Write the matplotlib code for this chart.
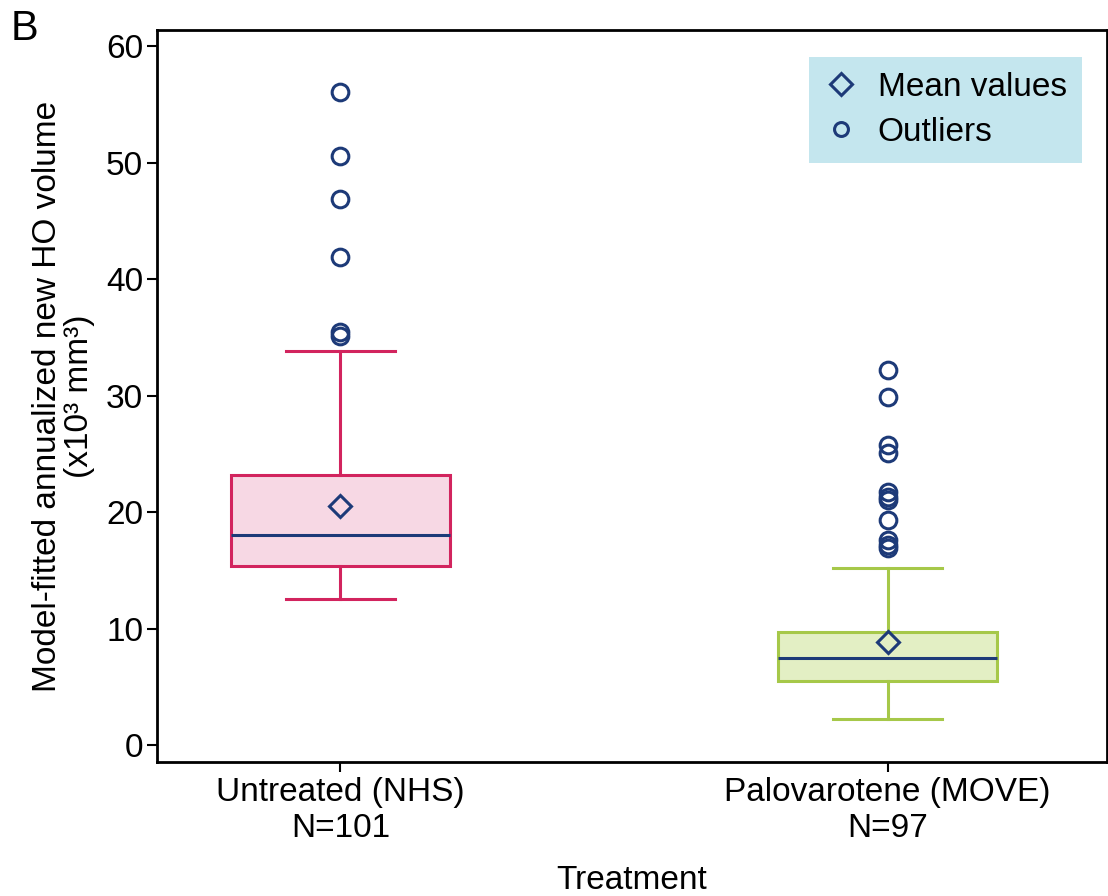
import matplotlib
matplotlib.use("Agg")
import matplotlib.pyplot as plt
from matplotlib.lines import Line2D

plt.rcParams['font.family'] = ['Liberation Sans', 'DejaVu Sans']

categories = ["Untreated (NHS)\nN=101", "Palovarotene (MOVE)\nN=97"]
whisker_low = [12.5, 2.2]
q1 = [15.4, 5.5]
median = [18.0, 7.5]
q3 = [23.2, 9.7]
whisker_high = [33.8, 15.2]
means = [20.5, 8.8]
outliers_untreated = [56.1, 50.6, 46.9, 41.9, 35.5, 35.1]
outliers_palovarotene = [32.2, 29.9, 25.8, 25.1, 21.7, 21.3, 21.0, 19.3, 17.6, 17.2, 16.9]
yticks = [0, 10, 20, 30, 40, 50, 60]

edge_colors = ["#D2245E", "#A6C849"]
fill_colors = ["#F7D8E4", "#E3EFC4"]
navy = "#1D3A78"

fig = plt.figure(figsize=(11.08, 8.96), dpi=100)
ax = fig.add_axes([0.1417, 0.1496, 0.857, 0.8169])

stats = []
fliers = [outliers_untreated, outliers_palovarotene]
for i in range(2):
    stats.append(dict(med=median[i], q1=q1[i], q3=q3[i], whislo=whisker_low[i],
                      whishi=whisker_high[i], mean=means[i], fliers=fliers[i]))

positions = [1, 2]
for i in range(2):
    ax.bxp([stats[i]], positions=[positions[i]], widths=0.4, patch_artist=True,
           showmeans=True, showfliers=True,
           boxprops=dict(facecolor=fill_colors[i], edgecolor=edge_colors[i], linewidth=2.2),
           whiskerprops=dict(color=edge_colors[i], linewidth=2.2),
           capprops=dict(color=edge_colors[i], linewidth=2.2),
           medianprops=dict(color=navy, linewidth=2.2),
           meanprops=dict(marker='D', markerfacecolor='none', markeredgecolor=navy,
                          markersize=11, markeredgewidth=2.2),
           flierprops=dict(marker='o', markerfacecolor='none', markeredgecolor=navy,
                           markersize=12, markeredgewidth=2.2),
           capwidths=0.2)

FS = 24
ax.set_xlim(0.665, 2.40)
ax.set_ylim(-1.46, 61.4)
ax.set_yticks(yticks)
ax.set_xticks(positions)
ax.set_xticklabels(categories, fontsize=FS, linespacing=1.2)
ax.tick_params(axis='y', labelsize=FS, length=7, width=1.5, pad=3)
ax.tick_params(axis='x', length=7, width=1.5, pad=4)
for s in ax.spines.values():
    s.set_linewidth(2)

ax.set_xlabel("Treatment", fontsize=FS, labelpad=15)
ax.set_ylabel("Model-fitted annualized new HO volume\n(x10\u00b3 mm\u00b3)", fontsize=FS,
              linespacing=1.05, labelpad=8)

handles = [Line2D([], [], linestyle='none', marker='D', markerfacecolor='none',
                  markeredgecolor=navy, markersize=11, markeredgewidth=2.2),
           Line2D([], [], linestyle='none', marker='o', markerfacecolor='none',
                  markeredgecolor=navy, markersize=10, markeredgewidth=2.2)]
leg = ax.legend(handles, ["Mean values", "Outliers"], loc='upper right',
                bbox_to_anchor=(0.974, 0.963), fontsize=FS, frameon=True,
                facecolor="#C4E6EE", edgecolor="none", framealpha=1,
                fancybox=False, handletextpad=0.6, borderpad=0.45, handlelength=1.0,
                labelspacing=0.42, borderaxespad=0)

fig.text(0.010, 0.968, "B", fontsize=30, va='center', ha='left')

fig.savefig("out.png", dpi=100)
